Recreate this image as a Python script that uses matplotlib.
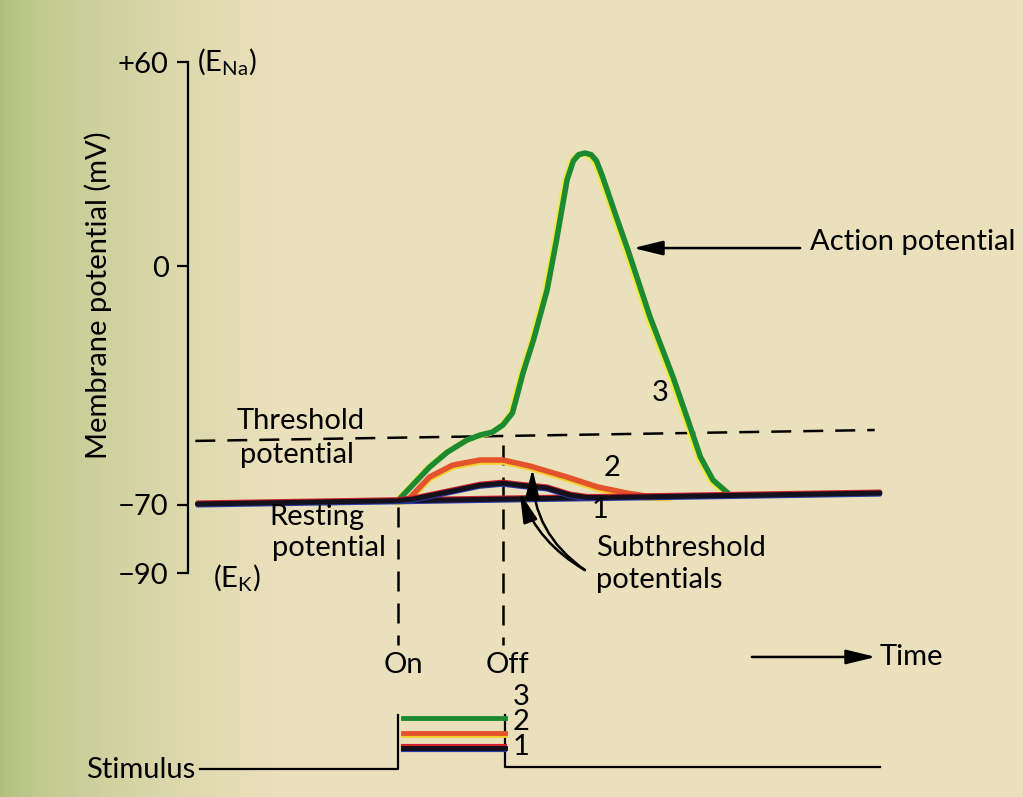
import numpy as np
import matplotlib
matplotlib.use("Agg")
import matplotlib.pyplot as plt
from matplotlib import transforms

plt.rcParams['font.family'] = ['Lato', 'DejaVu Sans']
FS = 21

# time in arbitrary units (stimulus on at 2.0), potential in mV
rest_t = [0.09, 6.59]
rest_mv = [-69.7, -66.5]

thresh_t = [0.07, 6.54]
thresh_mv = [-51.2, -48.0]

# 3: action potential
ap_t = [2.0, 2.30, 2.47, 2.66, 2.78, 2.90, 3.00, 3.09, 3.14, 3.19, 3.29, 3.42, 3.51,
        3.61, 3.67, 3.72, 3.78, 3.84, 3.89, 3.95, 4.09, 4.19, 4.40, 4.62, 4.80, 4.88,
        5.00, 5.16]
ap_mv = [-68.7, -58.9, -54.5, -50.9, -49.5, -48.6, -46.5, -43.0, -37.2, -31.3, -21.6, -6.9, 7.8,
         25.4, 31.0, 32.8, 33.3, 32.8, 31.0, 26.2, 13.6, 4.8, -14.8, -32.5, -48.6, -55.9,
         -62.7, -67.0]

# 2: larger subthreshold potential
sub2_t = [2.0, 2.11, 2.21, 2.30, 2.52, 2.78, 3.00, 3.26, 3.61, 3.90, 4.18, 4.37, 4.60]
sub2_mv = [-68.7, -68.0, -64.7, -61.8, -58.3, -56.8, -56.8, -58.6, -61.8, -64.7, -66.5, -67.4, -67.5]

# 1: smaller subthreshold potential
sub1_t = [2.0, 2.14, 2.47, 2.78, 3.00, 3.16, 3.42, 3.64, 3.80, 4.00]
sub1_mv = [-68.7, -68.3, -66.2, -64.2, -63.6, -64.2, -65.0, -67.1, -67.8, -67.8]

t_on, t_off = 2.0, 3.02
stim_levels = [1.4, 2.4, 3.4]      # stimulus 1, 2, 3 (arbitrary units)
stim_top = 3.6

ytick_vals = [60, 0, -70, -90]
ytick_labels = ['+60', '0', '\u221270', '\u221290']

fig = plt.figure(figsize=(10.23, 7.97), dpi=100)

# paper background, greenish towards the left edge
bg = fig.add_axes([0, 0, 1, 1], zorder=-5)
xs = np.linspace(0, 1, 400)
w = np.clip(xs / 0.28, 0, 1) ** 0.6
left_c = np.array([0.68, 0.75, 0.48])
right_c = np.array([0.925, 0.88, 0.74])
row = left_c[None, :] * (1 - w[:, None]) + right_c[None, :] * w[:, None]
bg.imshow(np.repeat(row[None, :, :], 10, axis=0), aspect='auto', extent=[0, 1, 0, 1])
bg.axis('off')

ax = fig.add_axes([0, 0, 1, 1])
ax.set_facecolor('none')
ax.set_xlim(-1.790, 7.952)
ax.set_ylim(-155.7, 78.2)
for s in ['top', 'right', 'bottom']:
    ax.spines[s].set_visible(False)
ax.spines['left'].set_position(('data', 0))
ax.spines['left'].set_bounds(-90, 60)
ax.spines['left'].set_linewidth(1.6)
ax.set_xticks([])
ax.set_yticks(ytick_vals)
ax.set_yticklabels(ytick_labels, fontsize=FS)
ax.tick_params(axis='y', direction='out', length=8, width=1.6, pad=6)

ax.text(-0.857, -8.4, 'Membrane potential (mV)', rotation=90, ha='center', va='center', fontsize=FS)
ax.text(0.086, 60, r'(E$_{\mathregular{Na}}$)', ha='left', va='center', fontsize=FS)
ax.text(0.24, -91.5, r'(E$_{\mathregular{K}}$)', ha='left', va='center', fontsize=FS)


def offset(dx, dy):
    return transforms.offset_copy(ax.transData, fig=fig, x=dx, y=dy, units='dots')


dash = (20 / 2.5, 12 / 2.5)
arrow = '-|>,head_length=0.9,head_width=0.22'

# threshold
ax.plot(thresh_t, thresh_mv, color='k', lw=1.8, dashes=dash)
ax.text(0.467, -45.4, 'Threshold', ha='left', va='center', fontsize=FS)
ax.text(0.495, -55.3, 'potential', ha='left', va='center', fontsize=FS)

# on / off markers
ax.plot([t_on, t_on], [-70.6, -111.1], color='k', lw=1.8, dashes=dash)
ax.plot([3.0, 3.0], [-52.4, -111.1], color='k', lw=1.8, dashes=dash)
ax.text(2.05, -117.0, 'On', ha='center', va='center', fontsize=FS)
ax.text(3.04, -117.0, 'Off', ha='center', va='center', fontsize=FS)

# potentials with printed colour fringes
lw = 4.0
ax.plot(sub2_t, sub2_mv, color='#f2d12c', lw=lw, transform=offset(0, -2), solid_capstyle='round')
ax.plot(sub2_t, sub2_mv, color='#e4542c', lw=lw, solid_capstyle='round', solid_joinstyle='round')

ax.plot(ap_t, ap_mv, color='#ecec40', lw=lw, transform=offset(-2, -1), solid_joinstyle='round')
ax.plot(ap_t, ap_mv, color='#1b8a30', lw=lw, solid_joinstyle='round', solid_capstyle='round')

for tt, vv in [(rest_t, rest_mv), (sub1_t, sub1_mv)]:
    ax.plot(tt, vv, color='#2a3aa8', lw=3.0, transform=offset(0, -1.5), solid_capstyle='round')
    ax.plot(tt, vv, color='#d0202c', lw=3.0, transform=offset(0, 1.5), solid_capstyle='round')
    ax.plot(tt, vv, color='#14101c', lw=3.6, solid_capstyle='round', solid_joinstyle='round')

ax.text(0.78, -73.5, 'Resting', ha='left', va='center', fontsize=FS)
ax.text(0.80, -82.6, 'potential', ha='left', va='center', fontsize=FS)

ax.text(4.50, -37.2, '3', ha='center', va='center', fontsize=FS)
ax.text(4.04, -59.2, '2', ha='center', va='center', fontsize=FS)
ax.text(3.92, -71.5, '1', ha='center', va='center', fontsize=FS)

# action potential label
ax.annotate('', xy=(4.24, 5.4), xytext=(5.83, 5.4),
            arrowprops=dict(arrowstyle=arrow, color='k', lw=1.8, mutation_scale=20,
                            shrinkA=0, shrinkB=0))
ax.text(5.92, 7.2, 'Action potential', ha='left', va='center', fontsize=FS)

# subthreshold label
ax.text(3.89, -82.6, 'Subthreshold', ha='left', va='center', fontsize=FS)
ax.text(3.89, -92.0, 'potentials', ha='left', va='center', fontsize=FS)
for tip, rad in [((3.16, -66.4), -0.18), ((3.28, -59.4), -0.26)]:
    ax.annotate('', xy=tip, xytext=(3.78, -89.1),
                arrowprops=dict(arrowstyle=arrow, color='k', lw=1.8, mutation_scale=20,
                                shrinkA=0, shrinkB=0,
                                connectionstyle='arc3,rad=%s' % rad))

# time arrow
ax.annotate('', xy=(6.55, -114.6), xytext=(5.37, -114.6),
            arrowprops=dict(arrowstyle=arrow, color='k', lw=1.8, mutation_scale=20,
                            shrinkA=0, shrinkB=0))
ax.text(6.59, -114.6, 'Time', ha='left', va='center', fontsize=FS)

# stimulus trace
ax2 = fig.add_axes([0, 0, 1, 1])
ax2.set_facecolor('none')
ax2.set_xlim(ax.get_xlim())
ax2.set_ylim(-1.867, 51.27)
ax2.axis('off')
ax2.plot([0.11, t_on, t_on], [0, 0, stim_top], color='k', lw=1.6)
ax2.plot([t_off, t_off, 6.59], [stim_top, 0.13, 0.13], color='k', lw=1.6)

stim_colors = ['#14101c', '#e4542c', '#1b8a30']
o2 = transforms.offset_copy(ax2.transData, fig=fig, x=0, y=-2, units='dots')
o3 = transforms.offset_copy(ax2.transData, fig=fig, x=0, y=1.5, units='dots')
ax2.plot([2.05, t_off], [stim_levels[1]] * 2, color='#f2d12c', lw=3.5, transform=o2)
ax2.plot([2.05, t_off], [stim_levels[0]] * 2, color='#2a3aa8', lw=3.0, transform=o2)
ax2.plot([2.05, t_off], [stim_levels[0]] * 2, color='#d0202c', lw=3.0, transform=o3)
for lev, c in zip(stim_levels, stim_colors):
    ax2.plot([2.05, t_off], [lev, lev], color=c, lw=3.5)

for lev, lab in zip([1.47, 3.13, 4.8], ['1', '2', '3']):
    ax2.text(3.09, lev, lab, ha='left', va='center', fontsize=FS)
ax2.text(0.07, -0.1, 'Stimulus', ha='right', va='center', fontsize=FS)

fig.savefig('out.png', dpi=100)
